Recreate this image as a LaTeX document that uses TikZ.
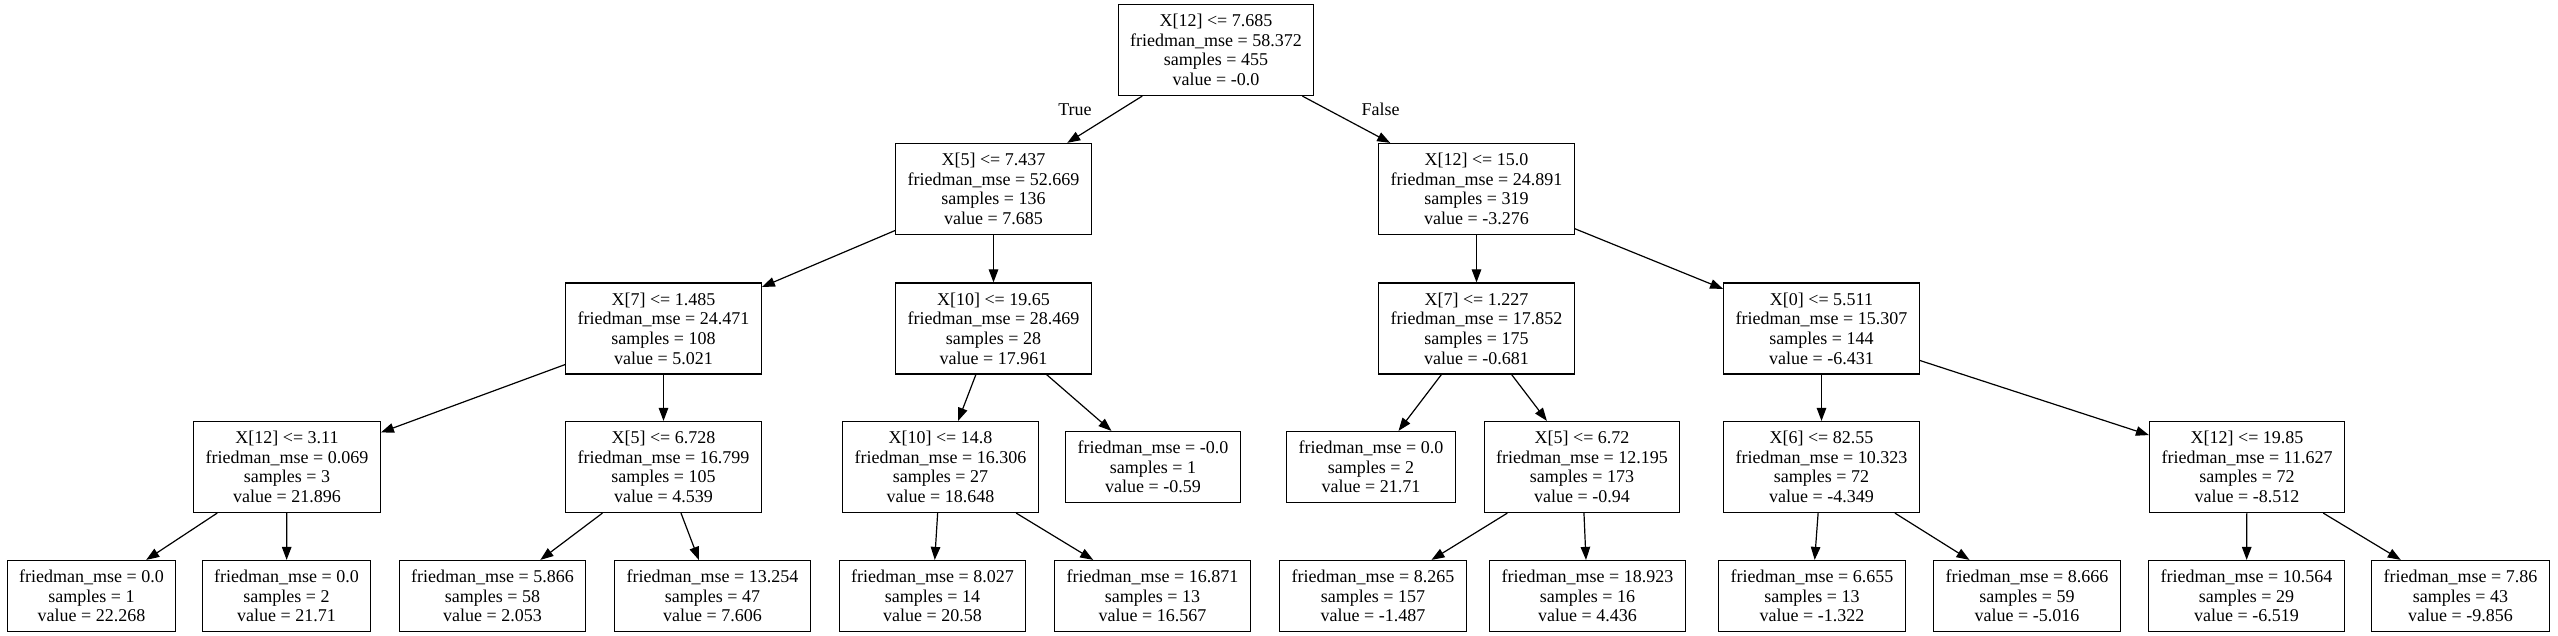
\documentclass[tikz,border=0pt]{standalone}
\usepackage{fontspec}
\setmainfont{Liberation Serif}
\usepackage{tikz}
\usetikzlibrary{arrows.meta}
\usetikzlibrary{positioning}

\begin{document}
\begin{tikzpicture}[x=1pt,y=-1pt,
    txt/.style={font=\fontsize{18}{19.7}\selectfont},
    split/.style={txt,draw,line width=1.2pt,align=center,inner xsep=12pt,inner ysep=0pt,minimum height=91pt},
    leaf/.style={split,minimum height=71pt},
    branch/.style={-{Triangle[length=13pt,width=9.5pt]},line width=1.2pt},
    lbl/.style={txt,inner sep=0pt}]
    \useasboundingbox (0,0) rectangle (2558,636);
    % depth 0 and 1
    \node[split] (n0) at (1216,50) {X[12] <= 7.685\\friedman\_mse = 58.372\\samples = 455\\value = -0.0};
    \node[split] (n1) at (993.5,189) {X[5] <= 7.437\\friedman\_mse = 52.669\\samples = 136\\value = 7.685};
    \node[split] (n14) at (1476.5,189) {X[12] <= 15.0\\friedman\_mse = 24.891\\samples = 319\\value = -3.276};
    % depth 2
    \node[split] (n2) at (663.5,328.5) {X[7] <= 1.485\\friedman\_mse = 24.471\\samples = 108\\value = 5.021};
    \node[split] (n9) at (993.5,328.5) {X[10] <= 19.65\\friedman\_mse = 28.469\\samples = 28\\value = 17.961};
    \node[split] (n15) at (1476.5,328.5) {X[7] <= 1.227\\friedman\_mse = 17.852\\samples = 175\\value = -0.681};
    \node[split] (n20) at (1821.5,328.5) {X[0] <= 5.511\\friedman\_mse = 15.307\\samples = 144\\value = -6.431};
    % depth 3
    \node[split] (n3) at (287,467) {X[12] <= 3.11\\friedman\_mse = 0.069\\samples = 3\\value = 21.896};
    \node[split] (n6) at (663.5,467) {X[5] <= 6.728\\friedman\_mse = 16.799\\samples = 105\\value = 4.539};
    \node[split] (n10) at (940.5,467) {X[10] <= 14.8\\friedman\_mse = 16.306\\samples = 27\\value = 18.648};
    \node[leaf] (n13) at (1153,467) {friedman\_mse = -0.0\\samples = 1\\value = -0.59};
    \node[leaf] (n16) at (1371,467) {friedman\_mse = 0.0\\samples = 2\\value = 21.71};
    \node[split] (n17) at (1582,467) {X[5] <= 6.72\\friedman\_mse = 12.195\\samples = 173\\value = -0.94};
    \node[split] (n21) at (1821.5,467) {X[6] <= 82.55\\friedman\_mse = 10.323\\samples = 72\\value = -4.349};
    \node[split] (n24) at (2247,467) {X[12] <= 19.85\\friedman\_mse = 11.627\\samples = 72\\value = -8.512};
    % depth 4
    \node[leaf] (n4) at (91.5,596) {friedman\_mse = 0.0\\samples = 1\\value = 22.268};
    \node[leaf] (n5) at (286.5,596) {friedman\_mse = 0.0\\samples = 2\\value = 21.71};
    \node[leaf] (n7) at (492.5,596) {friedman\_mse = 5.866\\samples = 58\\value = 2.053};
    \node[leaf] (n8) at (712.5,596) {friedman\_mse = 13.254\\samples = 47\\value = 7.606};
    \node[leaf] (n11) at (932.5,596) {friedman\_mse = 8.027\\samples = 14\\value = 20.58};
    \node[leaf] (n12) at (1152.5,596) {friedman\_mse = 16.871\\samples = 13\\value = 16.567};
    \node[leaf] (n18) at (1373,596) {friedman\_mse = 8.265\\samples = 157\\value = -1.487};
    \node[leaf] (n19) at (1587.5,596) {friedman\_mse = 18.923\\samples = 16\\value = 4.436};
    \node[leaf] (n22) at (1812,596) {friedman\_mse = 6.655\\samples = 13\\value = -1.322};
    \node[leaf] (n23) at (2027,596) {friedman\_mse = 8.666\\samples = 59\\value = -5.016};
    \node[leaf] (n25) at (2246.5,596) {friedman\_mse = 10.564\\samples = 29\\value = -6.519};
    \node[leaf] (n26) at (2460.5,596) {friedman\_mse = 7.86\\samples = 43\\value = -9.856};
    % branches
    \draw[branch] (n0) -- node[lbl,pos=0.28,left=29pt]{True} (n1);
    \draw[branch] (n0) -- node[lbl,pos=0.28,right=34pt]{False} (n14);
    \draw[branch] (n1) -- (n2);
    \draw[branch] (n1) -- (n9);
    \draw[branch] (n2) -- (n3);
    \draw[branch] (n2) -- (n6);
    \draw[branch] (n3) -- (n4);
    \draw[branch] (n3) -- (n5);
    \draw[branch] (n6) -- (n7);
    \draw[branch] (n6) -- (n8);
    \draw[branch] (n9) -- (n10);
    \draw[branch] (n9) -- (n13);
    \draw[branch] (n10) -- (n11);
    \draw[branch] (n10) -- (n12);
    \draw[branch] (n14) -- (n15);
    \draw[branch] (n14) -- (n20);
    \draw[branch] (n15) -- (n16);
    \draw[branch] (n15) -- (n17);
    \draw[branch] (n17) -- (n18);
    \draw[branch] (n17) -- (n19);
    \draw[branch] (n20) -- (n21);
    \draw[branch] (n20) -- (n24);
    \draw[branch] (n21) -- (n22);
    \draw[branch] (n21) -- (n23);
    \draw[branch] (n24) -- (n25);
    \draw[branch] (n24) -- (n26);
\end{tikzpicture}
\end{document}
